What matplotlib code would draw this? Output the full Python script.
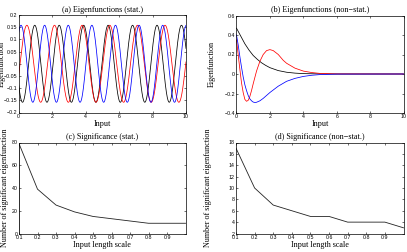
import numpy as np
import matplotlib
matplotlib.use("Agg")
import matplotlib.pyplot as plt

# ---- data ----
# (a) stationary eigenfunctions: sinusoids (amplitude, period, position of a peak)
stat_colors = ["k", "r", "b"]
stat_amplitude = [0.158, 0.158, 0.158]
stat_period = [1.46, 1.65, 1.41]
stat_peak = [0.97, 0.50, 1.56]

# (b) non-stationary eigenfunctions
ns_black_x = [0, 0.25, 0.5, 0.75, 1.0, 1.25, 1.5, 1.75, 2.0, 2.5, 3.0, 3.5, 4.0, 5.0, 6.0, 10.0]
ns_black_y = [0.47, 0.39, 0.31, 0.245, 0.19, 0.15, 0.115, 0.088, 0.065, 0.035, 0.018, 0.009, 0.004, 0.001, 0.0, 0.0]
ns_red_x = [0, 0.1, 0.2, 0.3, 0.4, 0.5, 0.6, 0.7, 0.8, 0.9, 1.0, 1.1, 1.2, 1.4, 1.6, 1.8, 2.0, 2.2, 2.5, 2.8, 3.0, 3.5, 4.0, 4.5, 5.0, 6.0, 10.0]
ns_red_y = [0.35, 0.2, 0.05, -0.09, -0.19, -0.26, -0.28, -0.27, -0.23, -0.17, -0.1, -0.035, 0.03, 0.13, 0.2, 0.24, 0.25, 0.24, 0.2, 0.14, 0.11, 0.06, 0.03, 0.015, 0.006, 0.001, 0.0]
ns_blue_x = [0, 0.1, 0.2, 0.3, 0.4, 0.5, 0.6, 0.7, 0.8, 0.9, 1.0, 1.1, 1.2, 1.4, 1.6, 1.8, 2.0, 2.5, 3.0, 3.5, 4.0, 4.5, 5.0, 6.0, 10.0]
ns_blue_y = [0.40, 0.3, 0.18, 0.07, -0.03, -0.11, -0.17, -0.22, -0.255, -0.275, -0.288, -0.292, -0.29, -0.275, -0.25, -0.22, -0.19, -0.125, -0.075, -0.045, -0.025, -0.013, -0.006, -0.001, 0.0]

# (c) significance, stationary
c_scale = [0.1, 0.1, 0.2, 0.3, 0.4, 0.5, 0.6, 0.7, 0.8, 0.9, 1.0]
c_count = [0, 79, 39, 25, 19, 15, 13, 11, 9, 9, 9]

# (d) significance, non-stationary
d_scale = [0.1, 0.2, 0.3, 0.4, 0.5, 0.6, 0.7, 0.8, 0.9, 1.0]
d_count = [17, 10, 7, 6, 5, 5, 4, 4, 4, 3]

titles = ["(a) Eigenfunctions (stat.)", "(b) Eigenfunctions (non\u2212stat.)",
          "(c) Significance (stat.)", "(d) Significance (non\u2212stat.)"]

W, H = 407, 252
fig = plt.figure(figsize=(W / 100, H / 100), dpi=100)

def rect(l, t, r, b):
    return [l / W, 1 - b / H, (r - l) / W, (b - t) / H]

serif = ["Liberation Serif", "DejaVu Serif"]
tfs = 5.9
tick_fs = 3.8

def style(ax, ylab_px, box):
    ax.tick_params(direction="in", length=1.5, width=0.4, labelsize=tick_fs,
                   top=True, right=True, pad=1)
    for s in ax.spines.values():
        s.set_linewidth(0.5)
    for lab in ax.get_xticklabels() + ax.get_yticklabels():
        lab.set_family(["Liberation Sans", "DejaVu Sans"])
    l, t, r, b = box
    ax.yaxis.set_label_coords((ylab_px - l) / (r - l), 0.5)
    ax.yaxis.label.set_verticalalignment("center")

def fmt(v):
    return ("%g" % v).replace("-", "\u2212")

# (a)
box = (18.5, 15, 186, 112.5)
ax = fig.add_axes(rect(*box))
xs = np.linspace(0, 10, 1500)
for c, a, p, pk in zip(stat_colors, stat_amplitude, stat_period, stat_peak):
    ax.plot(xs, a * np.cos(2 * np.pi * (xs - pk) / p), color=c, lw=0.55)
ax.set_xlim(0, 10)
ax.set_ylim(-0.2, 0.2)
ax.set_xticks([0, 2, 4, 6, 8, 10])
yt = [-0.2, -0.15, -0.1, -0.05, 0, 0.05, 0.1, 0.15, 0.2]
ax.set_yticks(yt)
ax.set_yticklabels([fmt(v) for v in yt])
ax.set_title(titles[0], family=serif, fontsize=tfs, pad=2.5)
ax.set_xlabel("Input", family=serif, fontsize=tfs, labelpad=0.5)
ax.set_ylabel("Eigenfunction", family=serif, fontsize=tfs)
style(ax, 2.0, box)

# (b)
box = (236.5, 15.5, 403.5, 113)
ax = fig.add_axes(rect(*box))
ax.plot(ns_black_x, ns_black_y, color="k", lw=0.55)
ax.plot(ns_red_x, ns_red_y, color="r", lw=0.55)
ax.plot(ns_blue_x, ns_blue_y, color="b", lw=0.55)
ax.set_xlim(0, 10)
ax.set_ylim(-0.4, 0.6)
ax.set_xticks([0, 2, 4, 6, 8, 10])
yt = [-0.4, -0.2, 0, 0.2, 0.4, 0.6]
ax.set_yticks(yt)
ax.set_yticklabels([fmt(v) for v in yt])
ax.set_title(titles[1], family=serif, fontsize=tfs, pad=2.5)
ax.set_xlabel("Input", family=serif, fontsize=tfs, labelpad=0.5)
ax.set_ylabel("Eigenfunction", family=serif, fontsize=tfs)
style(ax, 212, box)

# (c)
box = (19, 142.5, 185.5, 233.5)
ax = fig.add_axes(rect(*box))
ax.plot(c_scale, c_count, color="#222222", lw=0.6)
ax.set_xlim(0.1, 1.0)
ax.set_ylim(0, 80)
ax.set_xticks([0.1, 0.2, 0.3, 0.4, 0.5, 0.6, 0.7, 0.8, 0.9])
ax.set_yticks([0, 20, 40, 60, 80])
ax.set_title(titles[2], family=serif, fontsize=tfs, pad=2.5)
ax.set_xlabel("Input length scale", family=serif, fontsize=tfs, labelpad=0.5)
ax.set_ylabel("Number of significant eigenfunction", family=serif, fontsize=tfs)
style(ax, 5, box)

# (d)
box = (236, 142.5, 403.5, 233.5)
ax = fig.add_axes(rect(*box))
ax.plot(d_scale, d_count, color="#222222", lw=0.6)
ax.set_xlim(0.1, 1.0)
ax.set_ylim(2, 18)
ax.set_xticks([0.1, 0.2, 0.3, 0.4, 0.5, 0.6, 0.7, 0.8, 0.9])
ax.set_yticks([2, 4, 6, 8, 10, 12, 14, 16, 18])
ax.set_title(titles[3], family=serif, fontsize=tfs, pad=2.5)
ax.set_xlabel("Input length scale", family=serif, fontsize=tfs, labelpad=0.5)
ax.set_ylabel("Number of significant eigenfunction", family=serif, fontsize=tfs)
style(ax, 208, box)

fig.savefig("out.png", dpi=100)
